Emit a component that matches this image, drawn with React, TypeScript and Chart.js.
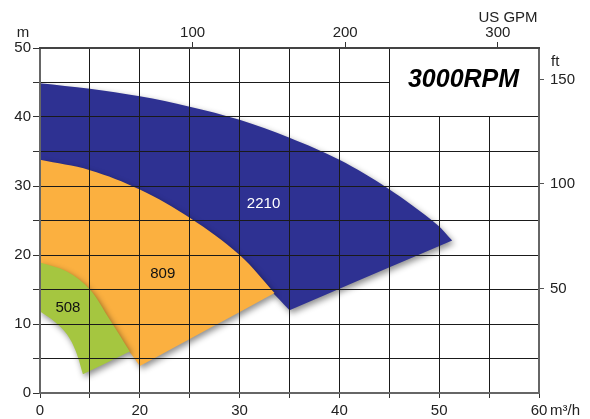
import React, { useEffect, useRef } from 'react';
import { Chart, registerables } from 'chart.js';

Chart.register(...registerables);

// ---- axis ticks / labels ----
const FLOW_TICK_LABELS: Record<number, string> = { 10: '0', 20: '20', 30: '30', 40: '40', 50: '50', 60: '60' };
const HEAD_TICK_LABELS = [0, 10, 20, 30, 40, 50];
const GPM_TICKS = [100, 200, 300];
const FT_TICKS = [50, 100, 150];
const FLOW_MIN = 10;
const FLOW_MAX = 60;
const HEAD_MAX = 50;
const GPM_MAX = 327;
const FT_MAX = 165;

// ---- performance bands (max / min impeller curves) ----
const Q_2210_MAX = [10, 15, 20, 25, 30, 35, 40, 44.8, 49.8, 51.3];
const H_2210_MAX = [44.9, 44.1, 43.0, 41.5, 39.6, 37.0, 33.8, 29.7, 24.4, 22.1];
const Q_2210_MIN = [10, 15, 20, 25, 30, 33, 35];
const H_2210_MIN = [31.5, 30.5, 27.8, 24.0, 19.0, 15.0, 12.0];

const Q_809_MAX = [10, 15, 20, 25, 30, 33.5];
const H_809_MAX = [33.8, 32.3, 29.5, 25.4, 20.0, 14.5];
const Q_809_MIN = [10, 15, 17, 19, 20];
const H_809_MIN = [17.1, 13.5, 9.5, 5.9, 3.9];

const Q_508_MAX = [10, 12.7, 15, 17, 19];
const H_508_MAX = [18.9, 17.6, 15.0, 10.6, 6.0];
const Q_508_MIN = [10, 11.5, 12.7, 13.6, 14.3];
const H_508_MIN = [11.8, 10.3, 8.5, 6.0, 2.7];

const MODELS = ['508', '809', '2210'];
const MODEL_COLORS = ['#A5C640', '#FBB040', '#2E3192'];
const MODEL_LABEL_Q = [12.8, 22.3, 32.4];
const MODEL_LABEL_H = [12.3, 17.3, 27.4];
const MODEL_LABEL_COLORS = ['#111', '#111', '#fff'];

const BOX_Q = [45, 60];
const BOX_H = [40, 50];
const BOX_TEXT = '3000RPM';

const GRID_COLOR = '#1a1a1a';
const FONT = '"Liberation Sans", Arial, Helvetica, sans-serif';

// Closed outline: max curve, then min curve backwards. Corner points are
// repeated so the smoothed outline keeps its sharp corners.
function band(qMax: number[], hMax: number[], qMin: number[], hMin: number[]) {
  const pts: { x: number; y: number }[] = [];
  const n = qMax.length;
  qMax.forEach((q, i) => {
    pts.push({ x: q, y: hMax[i] });
    if (i === n - 1) pts.push({ x: q, y: hMax[i] });
  });
  for (let i = qMin.length - 1; i >= 0; i--) {
    pts.push({ x: qMin[i], y: hMin[i] });
    if (i === qMin.length - 1) pts.push({ x: qMin[i], y: hMin[i] });
  }
  return pts;
}

const shadowPlugin = {
  id: 'bandShadow',
  beforeDatasetsDraw(chart: any) {
    const c = chart.ctx;
    c.save();
    c.shadowColor = 'rgba(0,0,0,0.45)';
    c.shadowBlur = 6;
    c.shadowOffsetX = 2;
    c.shadowOffsetY = 3;
  },
  afterDatasetsDraw(chart: any) {
    chart.ctx.restore();
  },
};

const overlayPlugin = {
  id: 'overlay',
  afterDraw(chart: any) {
    const { ctx, chartArea, scales } = chart;
    const x = scales.x;
    const y = scales.y;
    const { left, right, top, bottom } = chartArea;
    ctx.save();
    ctx.shadowColor = 'rgba(0,0,0,0)';
    ctx.shadowBlur = 0;
    ctx.shadowOffsetX = 0;
    ctx.shadowOffsetY = 0;
    ctx.globalAlpha = 1;
    ctx.globalCompositeOperation = 'source-over';

    // grid lines on top of the coloured bands, at the scales' own ticks
    ctx.fillStyle = GRID_COLOR;
    x.ticks.forEach((t: any) => {
      const p = Math.round(x.getPixelForValue(t.value) - 0.5);
      ctx.fillRect(p, Math.round(top), 1, Math.round(bottom - top));
    });
    y.ticks.forEach((t: any) => {
      const p = Math.round(y.getPixelForValue(t.value) - 0.5);
      ctx.fillRect(Math.round(left), p, Math.round(right - left), 1);
    });
    // frame
    ctx.fillStyle = '#666';
    ctx.fillRect(Math.round(left) - 1, Math.round(top) - 1, 2, Math.round(bottom - top) + 2);
    ctx.fillRect(Math.round(right) - 1, Math.round(top) - 1, 2, Math.round(bottom - top) + 2);
    ctx.fillRect(Math.round(left) - 1, Math.round(bottom) - 1, Math.round(right - left) + 2, 2);
    ctx.fillStyle = '#444';
    ctx.fillRect(Math.round(left) - 1, Math.round(top) - 1, Math.round(right - left) + 2, 2);

    // RPM box
    const bx0 = Math.round(x.getPixelForValue(BOX_Q[0]) - 0.5);
    const bx1 = Math.round(x.getPixelForValue(BOX_Q[1])) - 1;
    const by0 = Math.round(y.getPixelForValue(BOX_H[1])) + 1;
    const by1 = Math.round(y.getPixelForValue(BOX_H[0]) - 0.5);
    ctx.fillStyle = '#fff';
    ctx.fillRect(bx0 + 1, by0, bx1 - bx0 - 1, by1 - by0);
    ctx.fillStyle = '#000';
    ctx.font = `italic bold 25px ${FONT}`;
    ctx.textAlign = 'center';
    ctx.textBaseline = 'middle';
    ctx.fillText(BOX_TEXT, (bx0 + bx1) / 2, (by0 + by1) / 2 - 2);

    // model labels
    ctx.font = `15px ${FONT}`;
    MODELS.forEach((m, i) => {
      ctx.fillStyle = MODEL_LABEL_COLORS[i];
      ctx.fillText(m, x.getPixelForValue(MODEL_LABEL_Q[i]), y.getPixelForValue(MODEL_LABEL_H[i]));
    });

    // axis titles
    ctx.fillStyle = '#222';
    ctx.fillText('m', left - 17, top - 15);
    ctx.fillText('US GPM', right - 31, 18);
    ctx.textAlign = 'left';
    ctx.fillText('ft', right + 12, 62);
    ctx.fillText('m³/h', right + 11, 411);
    ctx.restore();
  },
};

export default function App() {
  const ref = useRef<HTMLCanvasElement | null>(null);

  useEffect(() => {
    if (!ref.current) return;
    const bands = [
      band(Q_508_MAX, H_508_MAX, Q_508_MIN, H_508_MIN),
      band(Q_809_MAX, H_809_MAX, Q_809_MIN, H_809_MIN),
      band(Q_2210_MAX, H_2210_MAX, Q_2210_MIN, H_2210_MIN),
    ];
    const tickFont = { family: FONT, size: 15 };
    const chart = new Chart(ref.current, {
      type: 'line',
      data: {
        datasets: bands.map((pts, i) => ({
          label: MODELS[i],
          data: pts,
          fill: 'shape',
          backgroundColor: MODEL_COLORS[i],
          borderColor: 'transparent',
          borderWidth: 0,
          pointRadius: 0,
          tension: 0.35,
        })),
      },
      options: {
        animation: false,
        responsive: false,
        devicePixelRatio: 1,
        layout: { padding: 0 },
        plugins: { legend: { display: false }, tooltip: { enabled: false } },
        scales: {
          x: {
            type: 'linear',
            position: 'bottom',
            min: FLOW_MIN,
            max: FLOW_MAX,
            grid: { drawOnChartArea: false, color: GRID_COLOR, lineWidth: 1, tickLength: 5, tickColor: '#333' },
            border: { display: false },
            ticks: {
              stepSize: 5,
              autoSkip: false,
              maxRotation: 0,
              padding: 4,
              color: '#222',
              font: tickFont,
              callback: (v: any) => FLOW_TICK_LABELS[v as number] ?? '',
            },
            afterFit: (s: any) => { s.height = 26; },
          },
          xTop: {
            type: 'linear',
            position: 'top',
            min: 0,
            max: GPM_MAX,
            grid: { drawOnChartArea: false, tickLength: 6, tickColor: '#333' },
            border: { display: false },
            ticks: { padding: 0, color: '#222', font: tickFont, maxRotation: 0, autoSkip: false },
            afterBuildTicks: (s: any) => { s.ticks = GPM_TICKS.map((v) => ({ value: v })); },
            afterFit: (s: any) => { s.height = 48; },
          },
          y: {
            type: 'linear',
            position: 'left',
            min: 0,
            max: HEAD_MAX,
            grid: { drawOnChartArea: false, color: GRID_COLOR, lineWidth: 1, tickLength: 7, tickColor: '#333' },
            border: { display: false },
            ticks: {
              stepSize: 5,
              autoSkip: false,
              padding: 2,
              color: '#222',
              font: tickFont,
              callback: (v: any) => (HEAD_TICK_LABELS.includes(v as number) ? String(v) : ''),
            },
            afterFit: (s: any) => { s.width = 40; },
          },
          yRight: {
            type: 'linear',
            position: 'right',
            min: 0,
            max: FT_MAX,
            grid: { drawOnChartArea: false, tickLength: 5, tickColor: '#555' },
            border: { display: false },
            ticks: { padding: 6, color: '#222', font: tickFont, autoSkip: false },
            afterBuildTicks: (s: any) => { s.ticks = FT_TICKS.map((v) => ({ value: v })); },
            afterFit: (s: any) => { s.width = 51; },
          },
        },
      },
      plugins: [shadowPlugin, overlayPlugin],
    } as any);
    return () => chart.destroy();
  }, []);

  return (
    <div style={{ position: 'absolute', left: 0, top: 0, width: 590, height: 419, background: '#fff' }}>
      <canvas ref={ref} width={590} height={419} style={{ display: 'block', width: 590, height: 419 }} />
    </div>
  );
}
